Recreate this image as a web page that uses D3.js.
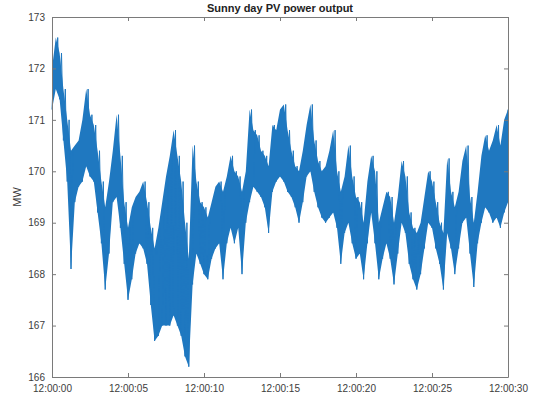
<!DOCTYPE html>
<html>
<head>
<meta charset="utf-8">
<script src="https://cdn.jsdelivr.net/npm/d3@7"></script>
<style>
  html, body { margin: 0; padding: 0; background: #fff; }
  svg { display: block; }
  text { font-family: "Liberation Sans", Arial, Helvetica, sans-serif; }
</style>
</head>
<body>
<svg id="chart" width="534" height="399"></svg>
<script>
// Seconds after 12:00:00, sampled every 0.25 s
const seconds = [
  0, 0.25, 0.5, 0.75, 1, 1.25, 1.5, 1.75, 2, 2.25, 2.5, 2.75,
  3, 3.25, 3.5, 3.75, 4, 4.25, 4.5, 4.75, 5, 5.25, 5.5, 5.75,
  6, 6.25, 6.5, 6.75, 7, 7.25, 7.5, 7.75, 8, 8.25, 8.5, 8.75,
  9, 9.25, 9.5, 9.75, 10, 10.25, 10.5, 10.75, 11, 11.25, 11.5, 11.75,
  12, 12.25, 12.5, 12.75, 13, 13.25, 13.5, 13.75, 14, 14.25, 14.5, 14.75,
  15, 15.25, 15.5, 15.75, 16, 16.25, 16.5, 16.75, 17, 17.25, 17.5, 17.75,
  18, 18.25, 18.5, 18.75, 19, 19.25, 19.5, 19.75, 20, 20.25, 20.5, 20.75,
  21, 21.25, 21.5, 21.75, 22, 22.25, 22.5, 22.75, 23, 23.25, 23.5, 23.75,
  24, 24.25, 24.5, 24.75, 25, 25.25, 25.5, 25.75, 26, 26.25, 26.5, 26.75,
  27, 27.25, 27.5, 27.75, 28, 28.25, 28.5, 28.75, 29, 29.25, 29.5, 29.75, 30
];

// Lowest output reached within each 0.25 s window (MW)
const powerLow = [
  171.2, 171.6, 171.4, 170.6, 169.8, 168.1, 169.4, 169.7, 169.8, 170.1, 169.9, 169.8,
  169.2, 168.6, 167.7, 168.4, 169.4, 169.5, 168.9, 168.2, 167.5, 167.9, 168.4, 168.6,
  168.5, 168.2, 167.4, 166.7, 166.8, 167.0, 167.0, 167.0, 167.2, 167.0, 166.8, 166.4,
  166.2, 167.8, 168.4, 168.2, 168.0, 167.9, 168.3, 168.5, 168.6, 167.9, 168.6, 168.9,
  168.6, 168.9, 168.0, 169.0, 169.4, 169.7, 169.6, 169.5, 169.3, 168.8, 169.6, 169.8,
  169.9, 169.8, 169.6, 169.5, 169.3, 169.0, 169.4, 169.9, 170.0, 169.6, 169.3, 169.1,
  169.0, 169.1, 169.2, 168.9, 168.2, 168.8, 169.0, 168.6, 168.3, 168.4, 167.9, 168.6,
  169.2, 168.6, 167.9, 168.3, 168.6, 168.3, 167.8, 168.4, 169.0, 168.8, 168.2, 167.9,
  167.7, 168.0, 168.5, 169.0, 168.9, 168.5, 168.2, 167.7, 168.8, 168.5, 168.0, 168.5,
  169.0, 169.1, 168.4, 167.75, 168.6, 169.0, 169.3, 169.2, 169.0, 169.1, 168.9, 169.2, 169.4
];

// Highest output reached within each 0.25 s window (MW)
const powerHigh = [
  172.0, 172.6, 172.3, 171.6, 171.0, 170.4, 170.5, 170.6, 171.0, 171.6, 171.1, 170.9,
  170.4, 169.8, 169.3, 169.8, 170.4, 171.1, 170.3, 169.4, 168.9, 169.3, 169.5, 169.6,
  169.8, 169.4, 168.9, 168.5, 168.9, 169.4, 169.9, 170.3, 170.8, 170.3, 169.8, 169.0,
  168.3, 170.5, 169.8, 169.4, 169.3, 169.1, 169.4, 169.7, 169.8, 169.6, 169.9, 170.3,
  170.0, 169.9, 169.6, 170.0, 171.2, 170.8, 170.7, 170.4, 170.3, 170.1, 170.9, 170.8,
  171.2, 171.3, 170.8, 170.4, 170.1, 170.0, 170.4, 170.9, 171.3, 170.6, 170.2, 170.0,
  170.1, 170.4, 170.8, 170.0, 169.6, 169.9, 170.5, 169.9, 169.5, 169.4, 169.0, 169.8,
  170.3, 170.0, 169.0, 169.3, 169.6, 169.5, 169.0, 169.5, 170.2, 169.9, 169.2, 168.9,
  168.8, 169.0, 169.5, 170.0, 169.8, 169.4, 169.0, 168.8, 170.25, 169.6, 169.3, 169.6,
  170.2, 170.5, 169.5, 169.0, 169.6, 170.3, 170.7, 170.4, 170.6, 170.9, 170.5, 171.0, 171.2
];

const yTicks = [166, 167, 168, 169, 170, 171, 172, 173];
const xTicks = [0, 5, 10, 15, 20, 25, 30];
const xTickLabels = ["12:00:00", "12:00:05", "12:00:10", "12:00:15", "12:00:20", "12:00:25", "12:00:30"];

const titleText = "Sunny day PV power output";
const yLabelText = "MW";

const plot = { left: 52, right: 508, top: 17, bottom: 377 };
const lineColor = "#1f78c0";
const axisColor = "#7a7a7a";
const labelColor = "#3c3c3c";

const svg = d3.select("#chart");

const x = d3.scaleLinear().domain([0, 30]).range([plot.left, plot.right]);
const y = d3.scaleLinear().domain([166, 173]).range([plot.bottom, plot.top]);

const rows = seconds.map((t, i) => ({ t, lo: powerLow[i], hi: powerHigh[i] }));

// Envelope of the fast fluctuations
const band = d3.area()
  .x(d => x(d.t))
  .y0(d => y(d.lo))
  .y1(d => y(d.hi));

svg.append("path")
  .datum(rows)
  .attr("d", band)
  .attr("fill", lineColor);

// Trace alternating between window minimum and maximum
const trace = [];
rows.forEach((d, i) => {
  trace.push([d.t, d.lo]);
  if (i < rows.length - 1) trace.push([d.t + 0.125, d.hi]);
  else trace.push([d.t, d.hi]);
});

svg.append("path")
  .datum(trace)
  .attr("d", d3.line().x(d => x(d[0])).y(d => y(d[1])))
  .attr("fill", "none")
  .attr("stroke", lineColor)
  .attr("stroke-width", 1);

// Axes box with inward ticks on all four sides
const tickLen = 4;
const bottomAxis = d3.axisBottom(x).tickValues(xTicks)
  .tickFormat((d, i) => xTickLabels[i]).tickSizeInner(-tickLen).tickSizeOuter(0).tickPadding(8);
const topAxis = d3.axisTop(x).tickValues(xTicks)
  .tickFormat("").tickSizeInner(-tickLen).tickSizeOuter(0);
const leftAxis = d3.axisLeft(y).tickValues(yTicks)
  .tickFormat(d3.format("d")).tickSizeInner(-tickLen).tickSizeOuter(0).tickPadding(7);
const rightAxis = d3.axisRight(y).tickValues(yTicks)
  .tickFormat("").tickSizeInner(-tickLen).tickSizeOuter(0);

function styleAxis(g) {
  g.select(".domain").attr("stroke", axisColor).attr("stroke-width", 1);
  g.selectAll(".tick line").attr("stroke", axisColor);
  g.selectAll(".tick text")
    .attr("fill", labelColor)
    .style("font-size", "10px")
    .style("font-family", "'Liberation Sans', Arial, sans-serif");
}

svg.append("g").attr("transform", `translate(0,${plot.bottom})`).call(bottomAxis).call(styleAxis);
svg.append("g").attr("transform", `translate(0,${plot.top})`).call(topAxis).call(styleAxis);
svg.append("g").attr("transform", `translate(${plot.left},0)`).call(leftAxis).call(styleAxis);
svg.append("g").attr("transform", `translate(${plot.right},0)`).call(rightAxis).call(styleAxis);

// Title
svg.append("text")
  .attr("x", (plot.left + plot.right) / 2)
  .attr("y", 12)
  .attr("text-anchor", "middle")
  .attr("fill", "#222")
  .style("font-size", "11px")
  .style("font-weight", "bold")
  .text(titleText);

// Y axis label
svg.append("text")
  .attr("transform", `translate(21,${(plot.top + plot.bottom) / 2}) rotate(-90)`)
  .attr("text-anchor", "middle")
  .attr("fill", labelColor)
  .style("font-size", "11px")
  .text(yLabelText);
</script>
</body>
</html>
